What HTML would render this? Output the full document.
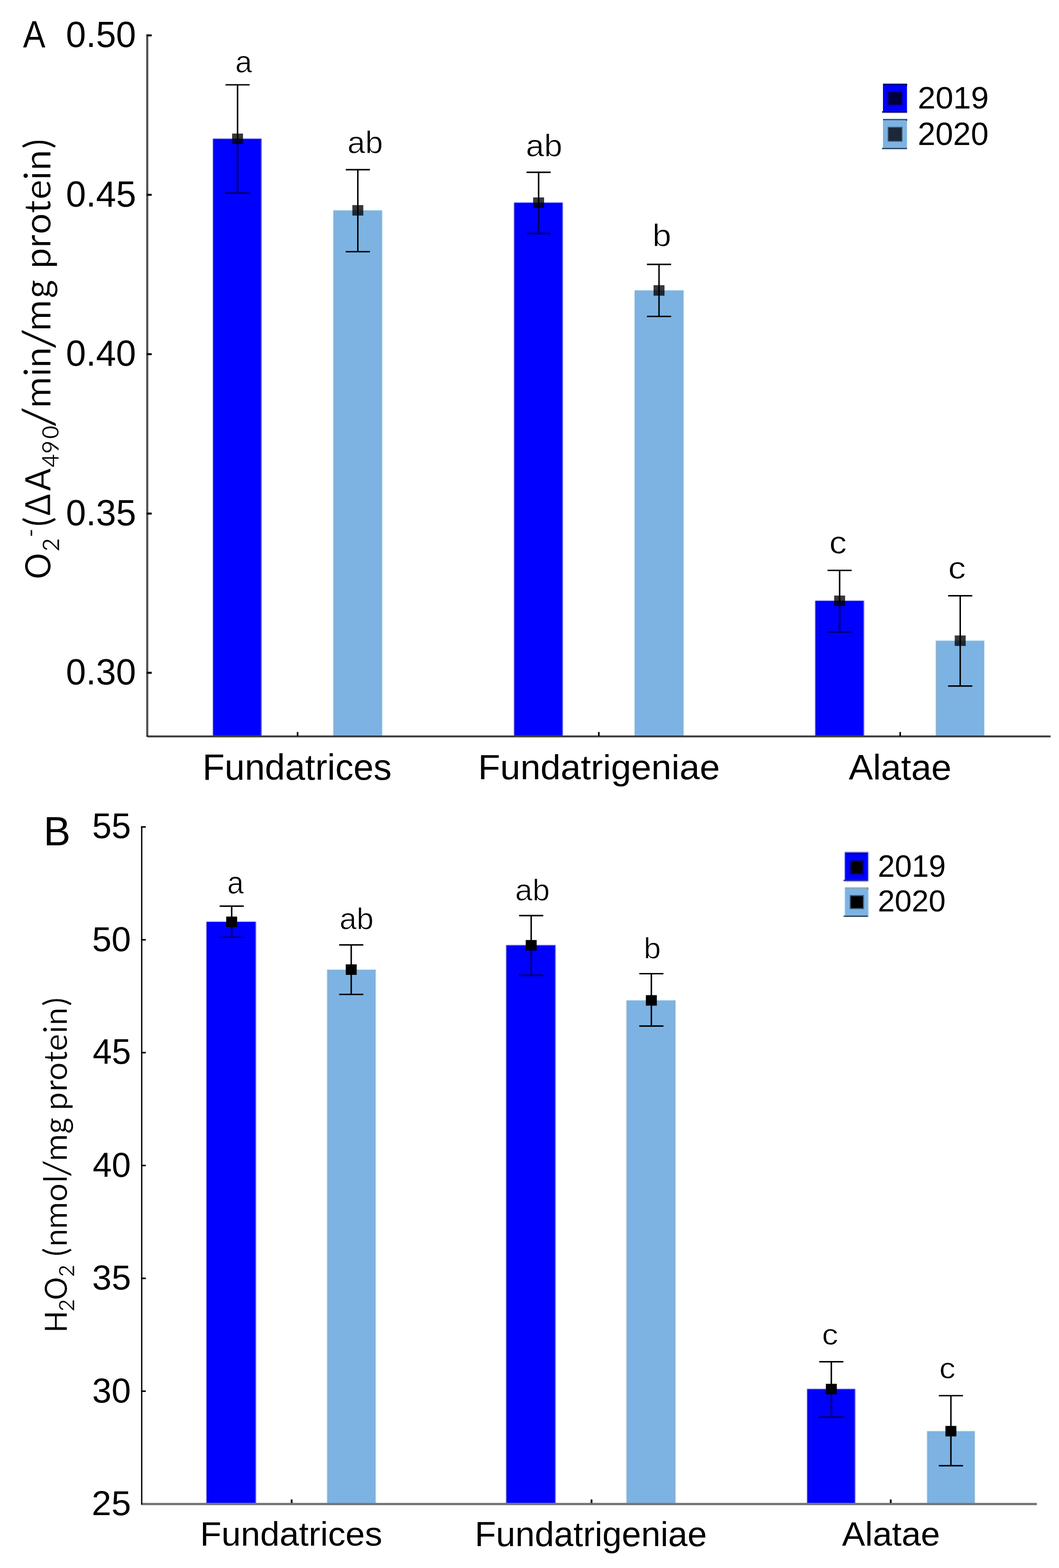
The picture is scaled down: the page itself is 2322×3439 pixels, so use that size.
<!DOCTYPE html>
<html><head><meta charset="utf-8"><title>Chart</title>
<style>html,body{margin:0;padding:0;background:#fff;width:2322px;height:3439px;overflow:hidden;} svg{display:block;} text{font-kerning:none;}</style>
</head><body>
<svg width="2322" height="3439" viewBox="0 0 2322 3439">
<rect width="2322" height="3439" fill="#fff"/>
<rect x="465.60" y="304.40" width="2.00" height="1308.60" fill="#b8b8ff"/>
<rect x="467.60" y="304.40" width="105.90" height="1308.60" fill="#0000ff"/>
<rect x="467.60" y="304.40" width="2.00" height="1308.60" fill="#0000c4"/>
<rect x="571.50" y="304.40" width="2.00" height="1308.60" fill="#4646dc"/>
<rect x="573.50" y="304.40" width="1.20" height="1308.60" fill="#c8c8f8"/>
<rect x="467.60" y="302.90" width="105.90" height="1.50" fill="#b8b8ff"/>
<rect x="728.80" y="461.30" width="2.50" height="1151.70" fill="#e4f6ff"/>
<rect x="731.30" y="461.30" width="106.30" height="1151.70" fill="#7db3e3"/>
<rect x="731.30" y="461.30" width="2.00" height="1151.70" fill="#8eaac6"/>
<rect x="835.60" y="461.30" width="2.00" height="1151.70" fill="#84a8c8"/>
<rect x="837.60" y="461.30" width="2.00" height="1151.70" fill="#dcf2ff"/>
<rect x="731.30" y="459.80" width="106.30" height="1.50" fill="#e4f6ff"/>
<rect x="1125.80" y="444.50" width="2.00" height="1168.50" fill="#b8b8ff"/>
<rect x="1127.80" y="444.50" width="106.30" height="1168.50" fill="#0000ff"/>
<rect x="1127.80" y="444.50" width="2.00" height="1168.50" fill="#0000c4"/>
<rect x="1232.10" y="444.50" width="2.00" height="1168.50" fill="#4646dc"/>
<rect x="1234.10" y="444.50" width="1.20" height="1168.50" fill="#c8c8f8"/>
<rect x="1127.80" y="443.00" width="106.30" height="1.50" fill="#b8b8ff"/>
<rect x="1389.30" y="637.00" width="2.50" height="976.00" fill="#e4f6ff"/>
<rect x="1391.80" y="637.00" width="106.80" height="976.00" fill="#7db3e3"/>
<rect x="1391.80" y="637.00" width="2.00" height="976.00" fill="#8eaac6"/>
<rect x="1496.60" y="637.00" width="2.00" height="976.00" fill="#84a8c8"/>
<rect x="1498.60" y="637.00" width="2.00" height="976.00" fill="#dcf2ff"/>
<rect x="1391.80" y="635.50" width="106.80" height="1.50" fill="#e4f6ff"/>
<rect x="1786.10" y="1317.70" width="2.00" height="295.30" fill="#b8b8ff"/>
<rect x="1788.10" y="1317.70" width="106.40" height="295.30" fill="#0000ff"/>
<rect x="1788.10" y="1317.70" width="2.00" height="295.30" fill="#0000c4"/>
<rect x="1892.50" y="1317.70" width="2.00" height="295.30" fill="#4646dc"/>
<rect x="1894.50" y="1317.70" width="1.20" height="295.30" fill="#c8c8f8"/>
<rect x="1788.10" y="1316.20" width="106.40" height="1.50" fill="#b8b8ff"/>
<rect x="2049.80" y="1405.20" width="2.50" height="207.80" fill="#e4f6ff"/>
<rect x="2052.30" y="1405.20" width="105.50" height="207.80" fill="#7db3e3"/>
<rect x="2052.30" y="1405.20" width="2.00" height="207.80" fill="#8eaac6"/>
<rect x="2155.80" y="1405.20" width="2.00" height="207.80" fill="#84a8c8"/>
<rect x="2157.80" y="1405.20" width="2.00" height="207.80" fill="#dcf2ff"/>
<rect x="2052.30" y="1403.70" width="105.50" height="1.50" fill="#e4f6ff"/>
<path d="M520.90 186.00V423.40M494.40 186.00H547.40M494.40 423.40H547.40" stroke="#000" stroke-width="3.2" fill="none"/>
<path d="M520.90 304.40V423.40M494.40 423.40H547.40" stroke="#00006e" stroke-width="3.2" fill="none"/>
<rect x="508.90" y="292.90" width="24.00" height="23.00" fill="rgba(0,0,0,0.78)"/>
<path d="M784.60 372.10V552.00M758.10 372.10H811.10M758.10 552.00H811.10" stroke="#000" stroke-width="3.2" fill="none"/>
<rect x="772.60" y="449.80" width="24.00" height="23.00" fill="rgba(0,0,0,0.78)"/>
<path d="M1181.00 377.80V512.00M1154.50 377.80H1207.50M1154.50 512.00H1207.50" stroke="#000" stroke-width="3.2" fill="none"/>
<path d="M1181.00 444.50V512.00M1154.50 512.00H1207.50" stroke="#00006e" stroke-width="3.2" fill="none"/>
<rect x="1169.00" y="433.00" width="24.00" height="23.00" fill="rgba(0,0,0,0.78)"/>
<path d="M1445.00 579.80V694.00M1418.50 579.80H1471.50M1418.50 694.00H1471.50" stroke="#000" stroke-width="3.2" fill="none"/>
<rect x="1433.00" y="625.50" width="24.00" height="23.00" fill="rgba(0,0,0,0.78)"/>
<path d="M1841.00 1251.00V1386.20M1814.50 1251.00H1867.50M1814.50 1386.20H1867.50" stroke="#000" stroke-width="3.2" fill="none"/>
<path d="M1841.00 1317.70V1386.20M1814.50 1386.20H1867.50" stroke="#00006e" stroke-width="3.2" fill="none"/>
<rect x="1829.00" y="1306.20" width="24.00" height="23.00" fill="rgba(0,0,0,0.78)"/>
<path d="M2105.40 1306.60V1504.70M2078.90 1306.60H2131.90M2078.90 1504.70H2131.90" stroke="#000" stroke-width="3.2" fill="none"/>
<rect x="2093.40" y="1393.70" width="24.00" height="23.00" fill="rgba(0,0,0,0.78)"/>
<rect x="321.20" y="75.50" width="2.30" height="1540.30" fill="#000"/>
<rect x="323.50" y="79.80" width="2.10" height="1536.00" fill="#808080"/>
<rect x="321.20" y="1613.40" width="1982.30" height="2.40" fill="#000"/>
<rect x="323.50" y="1615.80" width="1980.00" height="2.00" fill="#808080"/>
<rect x="321.00" y="75.45" width="11.60" height="4.30" fill="#000"/>
<rect x="321.00" y="425.15" width="11.60" height="4.30" fill="#000"/>
<rect x="321.00" y="774.65" width="11.60" height="4.30" fill="#000"/>
<rect x="321.00" y="1124.25" width="11.60" height="4.30" fill="#000"/>
<rect x="321.00" y="1473.45" width="11.60" height="4.30" fill="#000"/>
<rect x="650.75" y="1605.50" width="3.50" height="8.50" fill="#000"/>
<rect x="1311.25" y="1605.50" width="3.50" height="8.50" fill="#000"/>
<rect x="1972.05" y="1605.50" width="3.50" height="8.50" fill="#000"/>
<text transform="translate(144.41 103.01) scale(0.9827 1)" font-size="80.51" font-family='"Liberation Sans", Arial, sans-serif' fill="#000">0.50</text>
<text transform="translate(144.40 452.71) scale(0.9842 1)" font-size="80.51" font-family='"Liberation Sans", Arial, sans-serif' fill="#000">0.45</text>
<text transform="translate(144.41 802.21) scale(0.9827 1)" font-size="80.51" font-family='"Liberation Sans", Arial, sans-serif' fill="#000">0.40</text>
<text transform="translate(144.40 1151.81) scale(0.9842 1)" font-size="80.51" font-family='"Liberation Sans", Arial, sans-serif' fill="#000">0.35</text>
<text transform="translate(144.41 1501.01) scale(0.9827 1)" font-size="80.51" font-family='"Liberation Sans", Arial, sans-serif' fill="#000">0.30</text>
<text transform="translate(50.46 103.70) scale(0.8803 1)" font-size="83.43" font-family='"Liberation Sans", Arial, sans-serif' fill="#000">A</text>
<text transform="translate(444.09 1710.10) scale(1.0055 1)" font-size="78.94" font-family='"Liberation Sans", Arial, sans-serif' fill="#000">Fundatrices</text>
<text transform="translate(1048.18 1709.20) scale(1.0358 1)" font-size="76.73" font-family='"Liberation Sans", Arial, sans-serif' fill="#000">Fundatrigeniae</text>
<text transform="translate(1860.94 1710.00) scale(1.0231 1)" font-size="77.70" font-family='"Liberation Sans", Arial, sans-serif' fill="#000">Alatae</text>
<text transform="translate(515.67 158.54) scale(0.9832 1)" font-size="67.72" font-family='"Liberation Sans", Arial, sans-serif' fill="#000" stroke="#fff" stroke-width="1.02">a</text>
<text transform="translate(761.83 335.53) scale(1.0173 1)" font-size="68.77" font-family='"Liberation Sans", Arial, sans-serif' fill="#000" stroke="#fff" stroke-width="0.98">ab</text>
<text transform="translate(1152.94 343.14) scale(1.0596 1)" font-size="67.95" font-family='"Liberation Sans", Arial, sans-serif' fill="#000" stroke="#fff" stroke-width="0.94">ab</text>
<text transform="translate(1430.41 540.43) scale(1.0779 1)" font-size="68.90" font-family='"Liberation Sans", Arial, sans-serif' fill="#000" stroke="#fff" stroke-width="0.93">b</text>
<text transform="translate(1818.25 1214.21) scale(1.0779 1)" font-size="71.00" font-family='"Liberation Sans", Arial, sans-serif' fill="#000" stroke="#fff" stroke-width="0.93">c</text>
<text transform="translate(2078.92 1268.74) scale(1.1405 1)" font-size="67.72" font-family='"Liberation Sans", Arial, sans-serif' fill="#000" stroke="#fff" stroke-width="0.88">c</text>
<rect x="1936.00" y="184.00" width="52.70" height="63.00" fill="#0000ff"/>
<rect x="1936.00" y="182.00" width="52.70" height="2.00" fill="#b8b8ff"/>
<rect x="1936.00" y="184.00" width="52.70" height="2.40" fill="#000060"/>
<rect x="1986.70" y="184.00" width="2.50" height="4.00" fill="#000060"/>
<rect x="1934.00" y="244.20" width="54.70" height="2.80" fill="#000060"/>
<rect x="1936.00" y="247.00" width="52.70" height="1.50" fill="#b8b8ff"/>
<rect x="1946.10" y="200.50" width="32.90" height="30.90" fill="#0000a8"/>
<rect x="1948.10" y="202.50" width="28.90" height="26.90" fill="#00003c"/>
<rect x="1936.00" y="261.10" width="52.70" height="66.10" fill="#7db3e3"/>
<rect x="1936.00" y="259.10" width="52.70" height="2.00" fill="#dcf2ff"/>
<rect x="1936.00" y="261.10" width="52.70" height="2.40" fill="#2a4050"/>
<rect x="1986.70" y="261.10" width="2.50" height="4.00" fill="#2a4050"/>
<rect x="1934.00" y="324.40" width="54.70" height="2.80" fill="#2a4050"/>
<rect x="1936.00" y="327.20" width="52.70" height="1.50" fill="#dcf2ff"/>
<rect x="1946.10" y="278.00" width="32.90" height="33.00" fill="#4a6a8a"/>
<rect x="1948.10" y="280.00" width="28.90" height="29.00" fill="#1c2837"/>
<text transform="translate(2012.17 237.73) scale(1.0170 1)" font-size="68.93" font-family='"Liberation Sans", Arial, sans-serif' fill="#000">2019</text>
<text transform="translate(2012.19 317.61) scale(0.9947 1)" font-size="70.20" font-family='"Liberation Sans", Arial, sans-serif' fill="#000">2020</text>
<rect x="451.30" y="2021.80" width="2.00" height="1274.70" fill="#b8b8ff"/>
<rect x="453.30" y="2021.80" width="108.00" height="1274.70" fill="#0000ff"/>
<rect x="453.30" y="2021.80" width="2.00" height="1274.70" fill="#0000c4"/>
<rect x="559.30" y="2021.80" width="2.00" height="1274.70" fill="#4646dc"/>
<rect x="561.30" y="2021.80" width="1.20" height="1274.70" fill="#c8c8f8"/>
<rect x="453.30" y="2020.30" width="108.00" height="1.50" fill="#b8b8ff"/>
<rect x="715.20" y="2126.60" width="2.50" height="1169.90" fill="#e4f6ff"/>
<rect x="717.70" y="2126.60" width="105.80" height="1169.90" fill="#7db3e3"/>
<rect x="717.70" y="2126.60" width="2.00" height="1169.90" fill="#8eaac6"/>
<rect x="821.50" y="2126.60" width="2.00" height="1169.90" fill="#84a8c8"/>
<rect x="823.50" y="2126.60" width="2.00" height="1169.90" fill="#dcf2ff"/>
<rect x="717.70" y="2125.10" width="105.80" height="1.50" fill="#e4f6ff"/>
<rect x="1108.60" y="2073.20" width="2.00" height="1223.30" fill="#b8b8ff"/>
<rect x="1110.60" y="2073.20" width="107.60" height="1223.30" fill="#0000ff"/>
<rect x="1110.60" y="2073.20" width="2.00" height="1223.30" fill="#0000c4"/>
<rect x="1216.20" y="2073.20" width="2.00" height="1223.30" fill="#4646dc"/>
<rect x="1218.20" y="2073.20" width="1.20" height="1223.30" fill="#c8c8f8"/>
<rect x="1110.60" y="2071.70" width="107.60" height="1.50" fill="#b8b8ff"/>
<rect x="1371.40" y="2194.10" width="2.50" height="1102.40" fill="#e4f6ff"/>
<rect x="1373.90" y="2194.10" width="106.90" height="1102.40" fill="#7db3e3"/>
<rect x="1373.90" y="2194.10" width="2.00" height="1102.40" fill="#8eaac6"/>
<rect x="1478.80" y="2194.10" width="2.00" height="1102.40" fill="#84a8c8"/>
<rect x="1480.80" y="2194.10" width="2.00" height="1102.40" fill="#dcf2ff"/>
<rect x="1373.90" y="2192.60" width="106.90" height="1.50" fill="#e4f6ff"/>
<rect x="1768.40" y="3046.50" width="2.00" height="250.00" fill="#b8b8ff"/>
<rect x="1770.40" y="3046.50" width="104.90" height="250.00" fill="#0000ff"/>
<rect x="1770.40" y="3046.50" width="2.00" height="250.00" fill="#0000c4"/>
<rect x="1873.30" y="3046.50" width="2.00" height="250.00" fill="#4646dc"/>
<rect x="1875.30" y="3046.50" width="1.20" height="250.00" fill="#c8c8f8"/>
<rect x="1770.40" y="3045.00" width="104.90" height="1.50" fill="#b8b8ff"/>
<rect x="2030.50" y="3138.90" width="2.50" height="157.60" fill="#e4f6ff"/>
<rect x="2033.00" y="3138.90" width="104.20" height="157.60" fill="#7db3e3"/>
<rect x="2033.00" y="3138.90" width="2.00" height="157.60" fill="#8eaac6"/>
<rect x="2135.20" y="3138.90" width="2.00" height="157.60" fill="#84a8c8"/>
<rect x="2137.20" y="3138.90" width="2.00" height="157.60" fill="#dcf2ff"/>
<rect x="2033.00" y="3137.40" width="104.20" height="1.50" fill="#e4f6ff"/>
<path d="M508.00 1987.40V2055.50M481.50 1987.40H534.50M481.50 2055.50H534.50" stroke="#000" stroke-width="3.2" fill="none"/>
<path d="M508.00 2021.80V2055.50M481.50 2055.50H534.50" stroke="#00006e" stroke-width="3.2" fill="none"/>
<rect x="496.00" y="2010.30" width="24.00" height="23.00" fill="#000"/>
<path d="M770.10 2072.40V2181.00M743.60 2072.40H796.60M743.60 2181.00H796.60" stroke="#000" stroke-width="3.2" fill="none"/>
<rect x="758.10" y="2115.10" width="24.00" height="23.00" fill="#000"/>
<path d="M1164.70 2008.10V2139.20M1138.20 2008.10H1191.20M1138.20 2139.20H1191.20" stroke="#000" stroke-width="3.2" fill="none"/>
<path d="M1164.70 2073.20V2139.20M1138.20 2139.20H1191.20" stroke="#00006e" stroke-width="3.2" fill="none"/>
<rect x="1152.70" y="2061.70" width="24.00" height="23.00" fill="#000"/>
<path d="M1428.20 2135.50V2250.30M1401.70 2135.50H1454.70M1401.70 2250.30H1454.70" stroke="#000" stroke-width="3.2" fill="none"/>
<rect x="1416.20" y="2182.60" width="24.00" height="23.00" fill="#000"/>
<path d="M1822.80 2986.60V3107.80M1796.30 2986.60H1849.30M1796.30 3107.80H1849.30" stroke="#000" stroke-width="3.2" fill="none"/>
<path d="M1822.80 3046.50V3107.80M1796.30 3107.80H1849.30" stroke="#00006e" stroke-width="3.2" fill="none"/>
<rect x="1810.80" y="3035.00" width="24.00" height="23.00" fill="#000"/>
<path d="M2085.00 3061.00V3214.60M2058.50 3061.00H2111.50M2058.50 3214.60H2111.50" stroke="#000" stroke-width="3.2" fill="none"/>
<rect x="2073.00" y="3127.40" width="24.00" height="23.00" fill="#000"/>
<rect x="309.30" y="3296.20" width="1964.20" height="5.00" fill="#747474"/>
<rect x="309.30" y="1812.00" width="2.90" height="1487.50" fill="#000"/>
<rect x="309.30" y="1812.00" width="10.30" height="3.40" fill="#000"/>
<rect x="309.30" y="2059.50" width="10.30" height="3.40" fill="#000"/>
<rect x="309.30" y="2307.00" width="10.30" height="3.40" fill="#000"/>
<rect x="309.30" y="2554.50" width="10.30" height="3.40" fill="#000"/>
<rect x="309.30" y="2802.00" width="10.30" height="3.40" fill="#000"/>
<rect x="309.30" y="3049.50" width="10.30" height="3.40" fill="#000"/>
<rect x="637.50" y="3288.70" width="4.00" height="7.80" fill="#111"/>
<rect x="1295.00" y="3288.70" width="4.00" height="7.80" fill="#111"/>
<rect x="1951.00" y="3288.70" width="4.00" height="7.80" fill="#111"/>
<text transform="translate(201.93 1838.45) scale(0.9926 1)" font-size="77.25" font-family='"Liberation Sans", Arial, sans-serif' fill="#000">55</text>
<text transform="translate(201.94 2085.96) scale(1.0044 1)" font-size="76.13" font-family='"Liberation Sans", Arial, sans-serif' fill="#000">50</text>
<text transform="translate(203.27 2333.45) scale(0.9764 1)" font-size="77.25" font-family='"Liberation Sans", Arial, sans-serif' fill="#000">45</text>
<text transform="translate(203.27 2580.96) scale(0.9880 1)" font-size="76.13" font-family='"Liberation Sans", Arial, sans-serif' fill="#000">40</text>
<text transform="translate(202.09 2828.46) scale(1.0053 1)" font-size="76.13" font-family='"Liberation Sans", Arial, sans-serif' fill="#000">35</text>
<text transform="translate(202.09 3075.96) scale(1.0025 1)" font-size="76.13" font-family='"Liberation Sans", Arial, sans-serif' fill="#000">30</text>
<text transform="translate(201.10 3323.46) scale(1.0173 1)" font-size="76.13" font-family='"Liberation Sans", Arial, sans-serif' fill="#000">25</text>
<text transform="translate(95.43 1853.60) scale(0.9889 1)" font-size="89.68" font-family='"Liberation Sans", Arial, sans-serif' fill="#000">B</text>
<text transform="translate(438.83 3390.40) scale(1.0333 1)" font-size="73.97" font-family='"Liberation Sans", Arial, sans-serif' fill="#000">Fundatrices</text>
<text transform="translate(1040.94 3390.80) scale(1.0147 1)" font-size="75.21" font-family='"Liberation Sans", Arial, sans-serif' fill="#000">Fundatrigeniae</text>
<text transform="translate(1846.25 3390.10) scale(1.0309 1)" font-size="73.56" font-family='"Liberation Sans", Arial, sans-serif' fill="#000">Alatae</text>
<text transform="translate(498.34 1959.72) scale(0.9325 1)" font-size="69.73" font-family='"Liberation Sans", Arial, sans-serif' fill="#000" stroke="#fff" stroke-width="1.07">a</text>
<text transform="translate(744.44 2037.66) scale(1.0194 1)" font-size="66.04" font-family='"Liberation Sans", Arial, sans-serif' fill="#000" stroke="#fff" stroke-width="0.98">ab</text>
<text transform="translate(1129.60 1974.86) scale(1.0342 1)" font-size="66.04" font-family='"Liberation Sans", Arial, sans-serif' fill="#000" stroke="#fff" stroke-width="0.97">ab</text>
<text transform="translate(1411.56 2102.47) scale(1.0505 1)" font-size="64.14" font-family='"Liberation Sans", Arial, sans-serif' fill="#000" stroke="#fff" stroke-width="0.95">b</text>
<text transform="translate(1802.29 2949.37) scale(1.0953 1)" font-size="64.80" font-family='"Liberation Sans", Arial, sans-serif' fill="#000" stroke="#fff" stroke-width="0.91">c</text>
<text transform="translate(2059.49 3023.17) scale(1.0953 1)" font-size="64.80" font-family='"Liberation Sans", Arial, sans-serif' fill="#000" stroke="#fff" stroke-width="0.91">c</text>
<rect x="1853.00" y="1868.30" width="50.00" height="64.40" fill="#0000ff"/>
<rect x="1851.00" y="1868.30" width="2.00" height="64.40" fill="#a8a8ff"/>
<rect x="1903.00" y="1868.30" width="2.40" height="64.40" fill="#b0b0ff"/>
<rect x="1853.00" y="1868.30" width="50.00" height="2.30" fill="#8c8cd8"/>
<rect x="1854.00" y="1870.60" width="49.00" height="2.60" fill="#000080"/>
<rect x="1849.60" y="1929.50" width="53.40" height="3.00" fill="#2828a0"/>
<rect x="1853.00" y="1932.50" width="50.00" height="2.00" fill="#c4c4ff"/>
<rect x="1863.50" y="1886.50" width="30.50" height="31.50" fill="#000090"/>
<rect x="1866.50" y="1889.50" width="24.50" height="25.50" fill="#000000"/>
<rect x="1853.00" y="1946.40" width="50.00" height="64.40" fill="#7db3e3"/>
<rect x="1851.00" y="1946.40" width="2.00" height="64.40" fill="#d0ecff"/>
<rect x="1903.00" y="1946.40" width="2.40" height="64.40" fill="#c8dcec"/>
<rect x="1853.00" y="1946.40" width="50.00" height="3.10" fill="#8ca8c0"/>
<rect x="1900.50" y="1946.40" width="3.00" height="4.60" fill="#7890a8"/>
<rect x="1849.60" y="2008.20" width="53.40" height="2.60" fill="#243848"/>
<rect x="1863.00" y="1963.00" width="31.50" height="31.00" fill="#40607e"/>
<rect x="1865.50" y="1965.50" width="26.50" height="26.00" fill="#000000"/>
<text transform="translate(1924.63 1922.54) scale(0.9855 1)" font-size="68.08" font-family='"Liberation Sans", Arial, sans-serif' fill="#000">2019</text>
<text transform="translate(1924.64 1999.25) scale(1.0003 1)" font-size="66.81" font-family='"Liberation Sans", Arial, sans-serif' fill="#000">2020</text>
<text transform="translate(111 1269.5) rotate(-90)" font-family='Carlito, Calibri, "Liberation Sans", sans-serif' stroke="#fff" stroke-width="0.9"><tspan x="-0.80" y="0" font-size="87">O</tspan><tspan x="59.45" y="18.7" font-size="58.3">2</tspan><tspan x="91.71" y="-26.3" font-size="58.3">-</tspan><tspan x="111.50 138.53 192.21" y="0" font-size="87">(ΔA</tspan><tspan x="243.91 273.01 306.73" y="18" font-size="58.3">490</tspan><tspan x="334.65" y="7.2" font-size="102.66">/</tspan><tspan x="373.91 443.63 462.53" y="0" font-size="87">min</tspan><tspan x="506.20" y="7.2" font-size="102.66">/</tspan><tspan x="542.71 615.13 635.13 680.07 725.95 755.71 802.02 832.03 874.38 895.18 941.36" y="0" font-size="87">mg protein)</tspan></text>
<text transform="translate(146.7 2924.8) rotate(-90)" font-family='Carlito, Calibri, "Liberation Sans", sans-serif' stroke="#fff" stroke-width="0.9"><tspan x="2.22" y="0" font-size="76">H</tspan><tspan x="47.95" y="16.5" font-size="54.0">2</tspan><tspan x="73.44" y="0" font-size="76">O</tspan><tspan x="123.45 143.45" y="16.5" font-size="54.0">2 </tspan><tspan x="166.74 190.26 228.45 289.41 330.38" y="0" font-size="76">(nmol</tspan><tspan x="345.36" y="6" font-size="86.49">/</tspan><tspan x="377.35 437.79 457.79 489.34 530.81 554.71 595.16 619.57 658.08 675.51 716.60" y="0" font-size="76">mg protein)</tspan></text>
</svg>
</body></html>
